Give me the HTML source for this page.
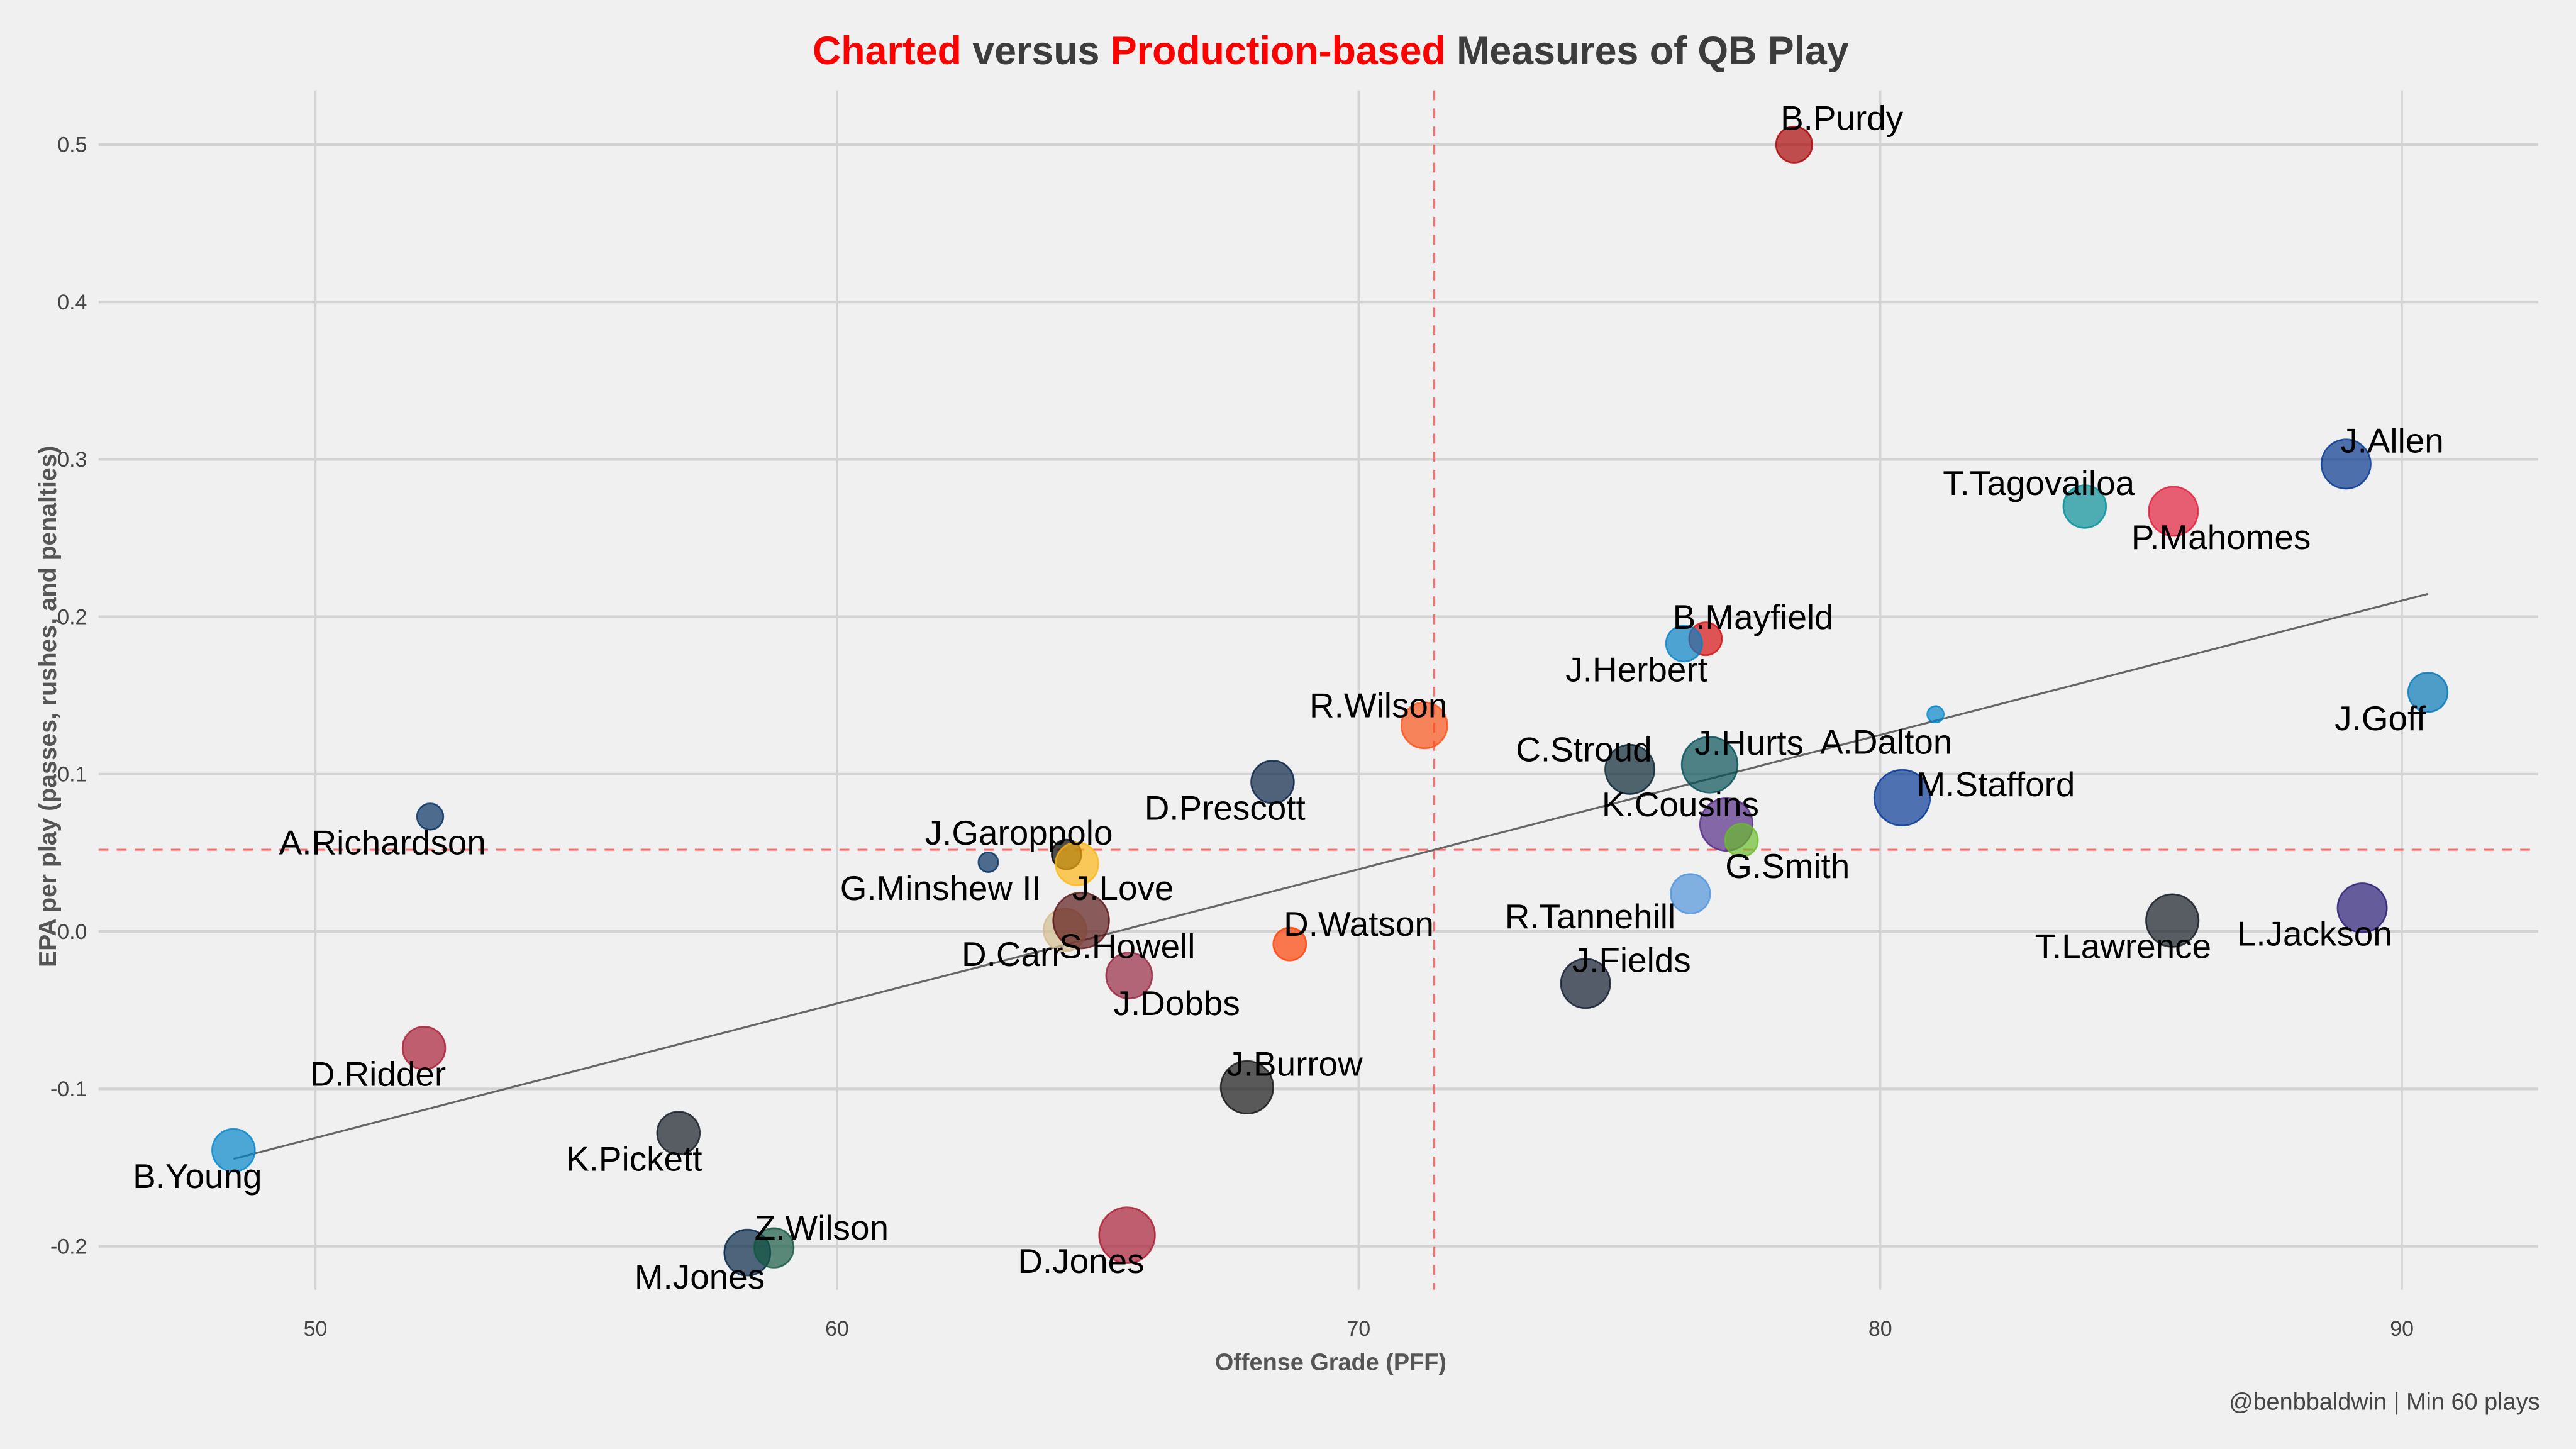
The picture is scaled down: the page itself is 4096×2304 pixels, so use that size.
<!DOCTYPE html>
<html><head><meta charset="utf-8"><style>
html,body{margin:0;padding:0;background:#f0f0f0;}
svg{display:block;font-family:"Liberation Sans",Arial,sans-serif;}
</style></head><body>
<svg id="chart" width="4096" height="2304" viewBox="0 0 1568 882" xmlns="http://www.w3.org/2000/svg">
<rect x="0" y="0" width="1568" height="882" fill="#f0f0f0"/>
<text x="810" y="39" text-anchor="middle" font-size="24" font-weight="bold" fill="#3c3c3c"><tspan fill="#ff0000">Charted</tspan> versus <tspan fill="#ff0000">Production-based</tspan> Measures of QB Play</text>
<g id="grid"></g>
<g id="ticks"></g>
<g id="refs"></g>
<g id="pts"></g>
<g id="labels"></g>
<text x="810" y="834" text-anchor="middle" font-size="14.5" font-weight="bold" fill="#555">Offense Grade (PFF)</text>
<text transform="translate(34,430) rotate(-90)" text-anchor="middle" font-size="15" font-weight="bold" fill="#555">EPA per play (passes, rushes, and penalties)</text>
<text x="1546" y="858" text-anchor="end" font-size="14.5" fill="#444">@benbbaldwin | Min 60 plays</text>
</svg>
<script>
const names=["B.Purdy","J.Allen","T.Tagovailoa","P.Mahomes","J.Goff","B.Mayfield","J.Herbert","A.Dalton","R.Wilson","C.Stroud","J.Hurts","M.Stafford","D.Prescott","A.Richardson","K.Cousins","G.Smith","J.Garoppolo","J.Love","G.Minshew II","D.Carr","S.Howell","R.Tannehill","T.Lawrence","L.Jackson","D.Watson","J.Fields","J.Dobbs","D.Ridder","J.Burrow","K.Pickett","B.Young","M.Jones","Z.Wilson","D.Jones"];
const grades=[78.35,88.93,83.92,85.62,90.5,76.65,76.24,81.06,71.26,75.2,76.73,80.42,68.35,52.2,77.05,77.34,64.4,64.6,62.9,64.37,64.68,76.36,85.6,89.24,68.68,74.35,65.6,52.08,67.86,56.96,48.43,58.28,58.79,65.56];
const epa=[0.50,0.297,0.27,0.267,0.152,0.186,0.183,0.138,0.131,0.103,0.106,0.085,0.095,0.073,0.068,0.058,0.049,0.043,0.044,0.001,0.007,0.024,0.007,0.015,-0.008,-0.033,-0.028,-0.074,-0.099,-0.128,-0.139,-0.204,-0.201,-0.193];
const plays=[11,15,13,15,12,10,11,5,14,15,17,17,13,8,16,10,9,13,6,13,17,12,16,15,10,15,14,13,16,13,13,14,12,17];
const colors=["#aa0000","#00338d","#008e97","#e31837","#0076b6","#d50a0a","#0080c6","#0085ca","#fb4f14","#03202f","#004c54","#003594","#041e42","#002c5f","#4f2683","#69be28","#000000","#ffb612","#002c5f","#d3bc8d","#5a1414","#4b92db","#101820","#241773","#ff3c00","#0b162a","#97233f","#a71930","#111111","#101820","#0085ca","#002244","#125740","#a71930"];
const labelDx=[29,28,-28,29,-29,29,-29,-30,-28,-28,24,57,-29,-29,-28,28,-29,28,-29,-32,28,-61,-30,-29,42,28,29,-28,29,-27,-22,-29,29,-28];
const labelDy=[-16,-14,-14,16,16,-13,16,17,-12,-12,-13,-8,16,16,-12,16,-13,15,16,15,16,14,16,16,-12,-14,17,16,-14,16,16,15,-12,16];
const xTicks=[50,60,70,80,90];
const yTicks=[0.5,0.4,0.3,0.2,0.1,0.0,-0.1,-0.2];
const yTickLabels=["0.5","0.4","0.3","0.2","0.1","0.0","-0.1","-0.2"];
const trend=[48.43,-0.1445,90.5,0.2145];
const refX=71.45, refY=0.052;

const NS="http://www.w3.org/2000/svg";
const sx=v=>192+(v-50)*31.75;
const sy=v=>567-v*958;
function mk(tag,attrs,parent,txt){const e=document.createElementNS(NS,tag);for(const k in attrs)e.setAttribute(k,attrs[k]);if(txt!==undefined)e.textContent=txt;parent.appendChild(e);return e;}
const grid=document.getElementById('grid'),ticks=document.getElementById('ticks'),refs=document.getElementById('refs'),pts=document.getElementById('pts'),labels=document.getElementById('labels');
xTicks.forEach(t=>{
  const l=mk('line',{x1:sx(t),x2:sx(t),y1:55,y2:785,stroke:'#d3d3d3','stroke-width':1.3},grid);
  
  
  const tx=mk('text',{x:sx(t),y:813,'text-anchor':'middle','font-size':13,fill:'#444'},ticks,String(t));
  
  
});
yTicks.forEach((t,i)=>{
  const l=mk('line',{x1:60,x2:1545,y1:sy(t),y2:sy(t),stroke:'#d3d3d3','stroke-width':1.6},grid);
  
  
  const tx=mk('text',{x:53,y:sy(t)+4.5,'text-anchor':'end','font-size':13,fill:'#444'},ticks,yTickLabels[i]);
  
  
});
let r1=mk('line',{x1:sx(refX),x2:sx(refX),y1:55,y2:785,stroke:'#ff6b6b','stroke-width':1.2,'stroke-dasharray':'6 5'},refs);


let r2=mk('line',{x1:60,x2:1545,y1:sy(refY),y2:sy(refY),stroke:'#ff6b6b','stroke-width':1.2,'stroke-dasharray':'6 5'},refs);


names.forEach((n,i)=>{
  const c=mk('circle',{cx:sx(grades[i]),cy:sy(epa[i]),r:plays[i],fill:colors[i],'fill-opacity':0.68,stroke:colors[i],'stroke-opacity':0.8,'stroke-width':1},pts);
  
  
});
let tl=mk('line',{x1:sx(trend[0]),y1:sy(trend[1]),x2:sx(trend[2]),y2:sy(trend[3]),stroke:'#666','stroke-width':1.2},refs);


names.forEach((n,i)=>{
  const t=mk('text',{x:sx(grades[i])+labelDx[i],y:sy(epa[i])+labelDy[i]+7,'text-anchor':'middle','font-size':21,fill:'#000'},labels,n);
  
  
});
</script>
</body></html>
